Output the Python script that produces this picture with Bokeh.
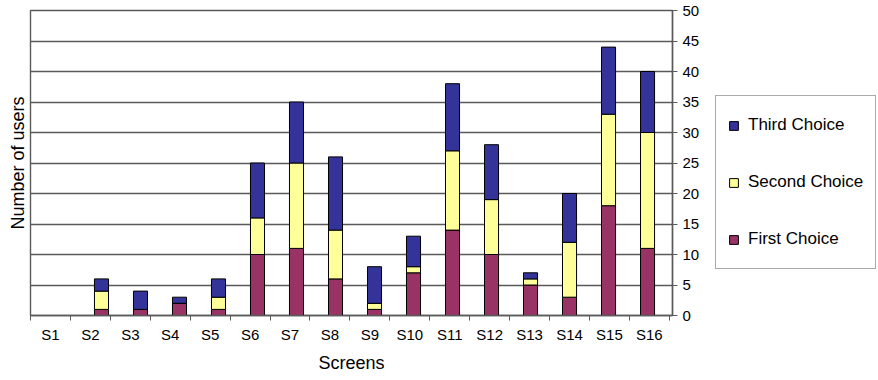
from bokeh.plotting import figure
from bokeh.layouts import row
from bokeh.models import (ColumnDataSource, Range1d, FixedTicker, LinearAxis,
                          Legend, LegendItem)
from bokeh.embed import file_html
from bokeh.resources import INLINE

# ---- data ----
screens = ["S1", "S2", "S3", "S4", "S5", "S6", "S7", "S8",
           "S9", "S10", "S11", "S12", "S13", "S14", "S15", "S16"]
first_choice = [0, 1, 1, 2, 1, 10, 11, 6, 1, 7, 14, 10, 5, 3, 18, 11]
second_choice = [0, 3, 0, 0, 2, 6, 14, 8, 1, 1, 13, 9, 1, 9, 15, 19]
third_choice = [0, 2, 3, 1, 3, 9, 10, 12, 6, 5, 11, 9, 1, 8, 11, 10]
series_names = ["First Choice", "Second Choice", "Third Choice"]
series_colors = ["#993366", "#FFFF99", "#333399"]
y_ticks = [0, 5, 10, 15, 20, 25, 30, 35, 40, 45, 50]

FONT = "Liberation Sans"
GRID = "#5a5a5a"

pos = list(range(1, len(screens) + 1))
boundaries = [i + 0.5 for i in range(0, len(screens) + 1)]

src = ColumnDataSource(dict(x=pos, first=first_choice,
                            second=second_choice, third=third_choice))

p = figure(width=710, height=380,
           x_range=Range1d(0.5, 16.58), y_range=Range1d(0, 50),
           y_axis_location="right",
           output_backend="svg", toolbar_location=None,
           min_border_left=30, min_border_right=38,
           min_border_top=10, min_border_bottom=65)
p.extra_x_ranges = {"bars": Range1d(0.18, 16.64)}
p.background_fill_color = "white"
p.border_fill_color = "white"
p.outline_line_color = GRID
p.outline_line_width = 1.4

renderers = p.vbar_stack(["first", "second", "third"], x="x", width=0.36,
                         source=src, x_range_name="bars",
                         color=series_colors, line_color="black",
                         line_width=1)
for r, c in zip(renderers, series_colors):
    r.glyph.fill_color = c
    r.glyph.line_color = "black"

# x axis (categories with ticks at boundaries)
xa = p.xaxis[0]
xa.ticker = FixedTicker(ticks=pos, minor_ticks=boundaries)
xa.major_label_overrides = {i: s for i, s in zip(pos, screens)}
xa.major_tick_line_color = None
xa.major_tick_out = 0
xa.major_tick_in = 0
xa.minor_tick_line_color = GRID
xa.minor_tick_out = 5
xa.minor_tick_in = 0
xa.axis_line_color = GRID
xa.axis_line_width = 1.4
xa.major_label_standoff = 5
xa.major_label_text_font = FONT
xa.major_label_text_font_size = "15px"
xa.major_label_text_color = "black"
xa.axis_label = "Screens"
xa.axis_label_text_font = FONT
xa.axis_label_text_font_size = "18px"
xa.axis_label_text_font_style = "normal"
xa.axis_label_text_color = "black"
xa.axis_label_standoff = 7

# y axis on the right
ya = p.yaxis[0]
ya.ticker = FixedTicker(ticks=y_ticks)
ya.minor_tick_line_color = None
ya.major_tick_in = 0
ya.major_tick_out = 5
ya.major_tick_line_color = GRID
ya.axis_line_color = GRID
ya.axis_line_width = 1.4
ya.major_label_standoff = 5
ya.major_label_text_font = FONT
ya.major_label_text_font_size = "15px"
ya.major_label_text_color = "black"

# left axis holding only the title
la = LinearAxis(ticker=FixedTicker(ticks=[]), axis_label="Number of users",
                axis_line_color=None, major_tick_out=0, major_tick_in=0,
                major_label_standoff=0, minor_tick_out=0, minor_tick_in=0,
                axis_label_standoff=3, axis_label_text_font=FONT,
                axis_label_text_font_size="18px",
                axis_label_text_font_style="normal",
                axis_label_text_color="black")
p.add_layout(la, "left")

p.xgrid.visible = False
p.ygrid.grid_line_color = GRID
p.ygrid.grid_line_width = 1.4

# ---- legend panel (separate figure to the right) ----
p2 = figure(width=168, height=380, x_range=Range1d(-3, -2),
            y_range=Range1d(0, 50), x_axis_location=None,
            y_axis_location=None, output_backend="svg",
            toolbar_location=None, min_border_left=0, min_border_right=0,
            min_border_top=0, min_border_bottom=0)
p2.outline_line_color = None
p2.xgrid.visible = False
p2.ygrid.visible = False
p2.background_fill_color = "white"
p2.border_fill_color = "white"

# same series drawn into the legend panel (outside its visible range),
# only so that the legend has glyphs to show
legend_r = p2.vbar_stack(["first", "second", "third"], x="x", width=0.36,
                         source=src, color=series_colors,
                         line_color="black", line_width=1)
for r, c in zip(legend_r, series_colors):
    r.glyph.fill_color = c
    r.glyph.line_color = "black"

items = [LegendItem(label=series_names[i], renderers=[legend_r[i]])
         for i in (2, 1, 0)]
legend = Legend(items=items, location=(5, 46),
                border_line_color="#555555", border_line_width=1,
                background_fill_color="white", background_fill_alpha=1,
                padding=12, spacing=23, margin=0,
                label_height=34, glyph_width=11, glyph_height=11,
                label_standoff=9, label_text_font=FONT,
                label_text_font_size="17px", label_text_color="black")
p2.add_layout(legend)

layout = row(p, p2, spacing=0)
open("out.html", "w").write(file_html(layout, INLINE))
